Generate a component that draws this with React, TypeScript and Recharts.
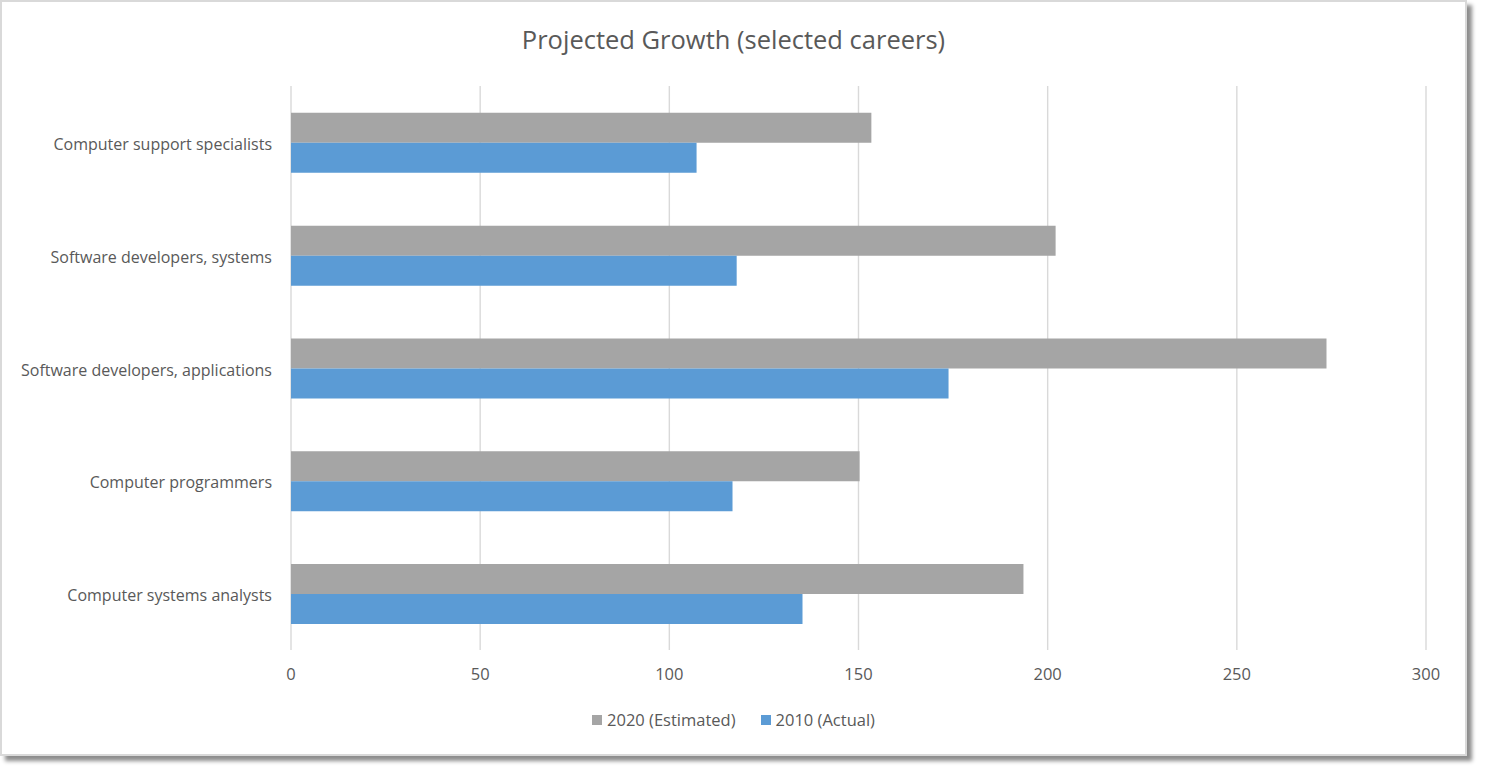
import { BarChart, Bar, XAxis, YAxis, CartesianGrid } from "recharts"

const careers = [
    "Computer support specialists",
    "Software developers, systems",
    "Software developers, applications",
    "Computer programmers",
    "Computer systems analysts",
]
const estimated2020 = [153.4, 202.1, 273.7, 150.3, 193.6]
const actual2010 = [107.2, 117.8, 173.8, 116.7, 135.2]
const xTicks = [0, 50, 100, 150, 200, 250, 300]

const FONT = "'Open Sans', sans-serif"
const TEXT = "#595959"
const GRAY = "#a5a5a5"
const BLUE = "#5b9bd5"

const chartData = careers.map((name, i) => ({
    name,
    est: estimated2020[i],
    act: actual2010[i],
}))

const legendItems = [
    { label: "2020 (Estimated)", color: GRAY },
    { label: "2010 (Actual)", color: BLUE },
]

const App = () => {
    return (
        <div
            style={{
                position: "absolute",
                left: 0,
                top: 0,
                width: 1463,
                height: 752,
                border: "2px solid #d9d9d9",
                background: "#fff",
                boxShadow: "5px 5px 4px rgba(0,0,0,0.45)",
            }}
        >
            <div
                style={{
                    position: "absolute",
                    left: 0,
                    width: 1463,
                    top: 20,
                    textAlign: "center",
                    fontFamily: FONT,
                    fontSize: 25.5,
                    lineHeight: "35px",
                    color: TEXT,
                }}
            >
                Projected Growth (selected careers)
            </div>
            <BarChart
                width={1463}
                height={752}
                data={chartData}
                layout="vertical"
                margin={{ top: 84, right: 39, bottom: 64, left: 0 }}
                barCategoryGap="23.8%"
                barGap={0}
            >
                <CartesianGrid horizontal={false} stroke="#d9d9d9" strokeWidth={1.4} />
                <XAxis
                    type="number"
                    domain={[0, 300]}
                    ticks={xTicks}
                    axisLine={false}
                    tickLine={false}
                    tickSize={0}
                    tickMargin={18}
                    height={40}
                    tick={{ fill: TEXT, fontFamily: FONT, fontSize: 16.5 }}
                />
                <YAxis
                    type="category"
                    dataKey="name"
                    width={289}
                    axisLine={false}
                    tickLine={false}
                    tickSize={0}
                    tickMargin={19}
                    tick={{ fill: TEXT, fontFamily: FONT, fontSize: 16, dy: 2 }}
                />
                <Bar dataKey="est" name="2020 (Estimated)" fill={GRAY} isAnimationActive={false} />
                <Bar dataKey="act" name="2010 (Actual)" fill={BLUE} isAnimationActive={false} />
            </BarChart>
            <div
                style={{
                    position: "absolute",
                    left: 0,
                    width: 1463,
                    top: 708,
                    lineHeight: "20px",
                    display: "flex",
                    justifyContent: "center",
                    gap: 25,
                    fontFamily: FONT,
                    fontSize: 16.5,
                    color: TEXT,
                }}
            >
                {legendItems.map((item) => (
                    <div key={item.label} style={{ display: "flex", alignItems: "center" }}>
                        <span
                            style={{
                                width: 10,
                                height: 10,
                                background: item.color,
                                display: "inline-block",
                                marginRight: 5,
                            }}
                        />
                        {item.label}
                    </div>
                ))}
            </div>
        </div>
    )
}

export default App
